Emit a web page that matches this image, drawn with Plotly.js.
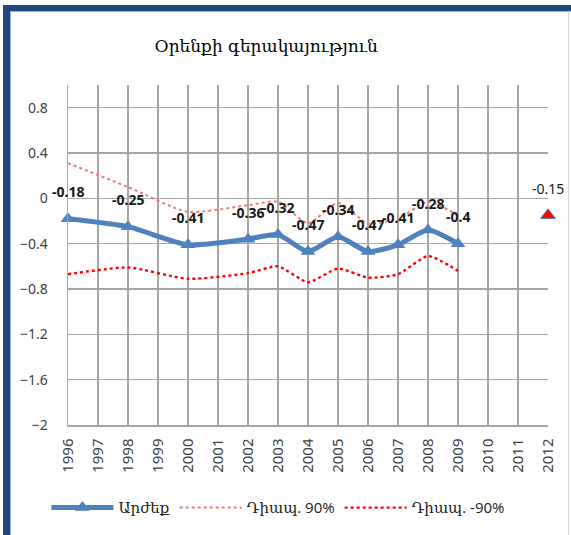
<!DOCTYPE html>
<html>
<head>
<meta charset="utf-8">
<script src="https://cdn.plot.ly/plotly-3.0.1.min.js"></script>
<style>
html,body{margin:0;padding:0;background:#fff;width:571px;height:535px;overflow:hidden;}
#chart{position:absolute;left:0;top:0;width:571px;height:535px;}
#frame{position:absolute;left:3px;top:5px;width:568px;height:530px;border-left:7px solid #1F497D;border-top:6px solid #1F497D;box-sizing:border-box;pointer-events:none;}
#frameInner{position:absolute;left:10px;top:11px;width:561px;height:524px;border-left:1px solid #8EB4E3;border-top:1px solid #8EB4E3;box-sizing:border-box;pointer-events:none;}
#frameRight{position:absolute;left:568px;top:11px;width:1px;height:524px;background:#d9d9d9;pointer-events:none;}
</style>
</head>
<body>
<div id="chart"></div>
<div id="frame"></div>
<div id="frameInner"></div>
<div id="frameRight"></div>
<script>
// Data
const tickYears = [1996,1997,1998,1999,2000,2001,2002,2003,2004,2005,2006,2007,2008,2009,2010,2011,2012];
const years = [1996,1998,2000,2002,2003,2004,2005,2006,2007,2008,2009];
const values = [-0.18,-0.25,-0.41,-0.36,-0.32,-0.47,-0.34,-0.47,-0.41,-0.28,-0.4];
const upper90 = [0.31,0.10,-0.12,-0.06,-0.03,-0.22,-0.04,-0.22,-0.18,-0.03,-0.15];
const lower90 = [-0.67,-0.61,-0.71,-0.66,-0.60,-0.74,-0.62,-0.70,-0.67,-0.51,-0.64];
const forecastYear = [2012];
const forecastValue = [-0.15];
const seriesNames = ['Արժեք','Դիապ. 90%','Դիապ. -90%'];
const titleText = 'Օրենքի գերակայություն';

const traces = [
  {x: years, y: values, name: seriesNames[0], type: 'scatter', mode: 'lines+markers', cliponaxis: false,
   line: {color: '#4F81BD', width: 5, shape: 'spline', smoothing: 0.6},
   marker: {symbol: 'triangle-up', size: 13, color: '#4F81BD'}},
  {x: years, y: upper90, name: seriesNames[1], type: 'scatter', mode: 'lines', cliponaxis: false,
   line: {color: '#F07878', width: 2, dash: 'dot', shape: 'spline', smoothing: 0.6}},
  {x: years, y: lower90, name: seriesNames[2], type: 'scatter', mode: 'lines', cliponaxis: false,
   line: {color: '#FF0000', width: 2.4, dash: 'dot', shape: 'spline', smoothing: 0.6}},
  {x: forecastYear, y: forecastValue, name: '', type: 'scatter', mode: 'markers', showlegend: false, cliponaxis: false,
   marker: {symbol: 'triangle-up', size: 13, color: '#FF0000', line: {color: '#4F81BD', width: 1}}}
];

const annotations = [];
years.forEach((yr, i) => {
  annotations.push({x: yr, y: values[i], xref: 'x', yref: 'y', text: String(values[i]),
    showarrow: false, yshift: 27,
    font: {family: 'Noto Sans, DejaVu Sans, sans-serif', size: 14, color: '#1a1a1a', weight: 'bold'}});
});
forecastYear.forEach((yr, i) => {
  annotations.push({x: yr, y: forecastValue[i], xref: 'x', yref: 'y', text: String(forecastValue[i]),
    showarrow: false, yshift: 27,
    font: {family: 'Noto Sans, DejaVu Sans, sans-serif', size: 14, color: '#1a1a1a'}});
});

const layout = {
  width: 571, height: 535,
  margin: {l: 68, r: 23, t: 85, b: 109},
  paper_bgcolor: '#ffffff', plot_bgcolor: '#ffffff',
  title: {text: titleText, x: 0.466, xanchor: 'center', y: 0.914, yanchor: 'middle',
    font: {family: 'DejaVu Serif, serif', size: 17, color: '#000'}},
  xaxis: {range: [1996, 2012], tickvals: tickYears, ticktext: tickYears.map(String), tickangle: -90,
    showgrid: true, gridcolor: '#A6A6A6', gridwidth: 1.5, zeroline: false,
    showline: true, linecolor: '#A6A6A6', linewidth: 1.5, ticks: '', ticklabelstandoff: 6,
    tickfont: {family: 'Noto Sans, DejaVu Sans, sans-serif', size: 15, color: '#404040'}},
  yaxis: {range: [-2, 1], tick0: 0, dtick: 0.4, tickformat: '~g',
    showgrid: true, gridcolor: '#A6A6A6', gridwidth: 1.5, zeroline: false,
    showline: true, linecolor: '#A6A6A6', linewidth: 1.5, ticks: '', ticklabelstandoff: 16,
    tickfont: {family: 'Noto Sans, DejaVu Sans, sans-serif', size: 14, color: '#404040'}},
  showlegend: true,
  legend: {orientation: 'h', x: -0.045, xanchor: 'left', y: -0.24, yanchor: 'middle',
    itemwidth: 62, traceorder: 'normal',
    font: {family: 'Open Sans, DejaVu Serif, serif', size: 15, color: '#222'}},
  annotations: annotations
};

Plotly.newPlot('chart', traces, layout, {displayModeBar: false, staticPlot: true});
</script>
</body>
</html>
